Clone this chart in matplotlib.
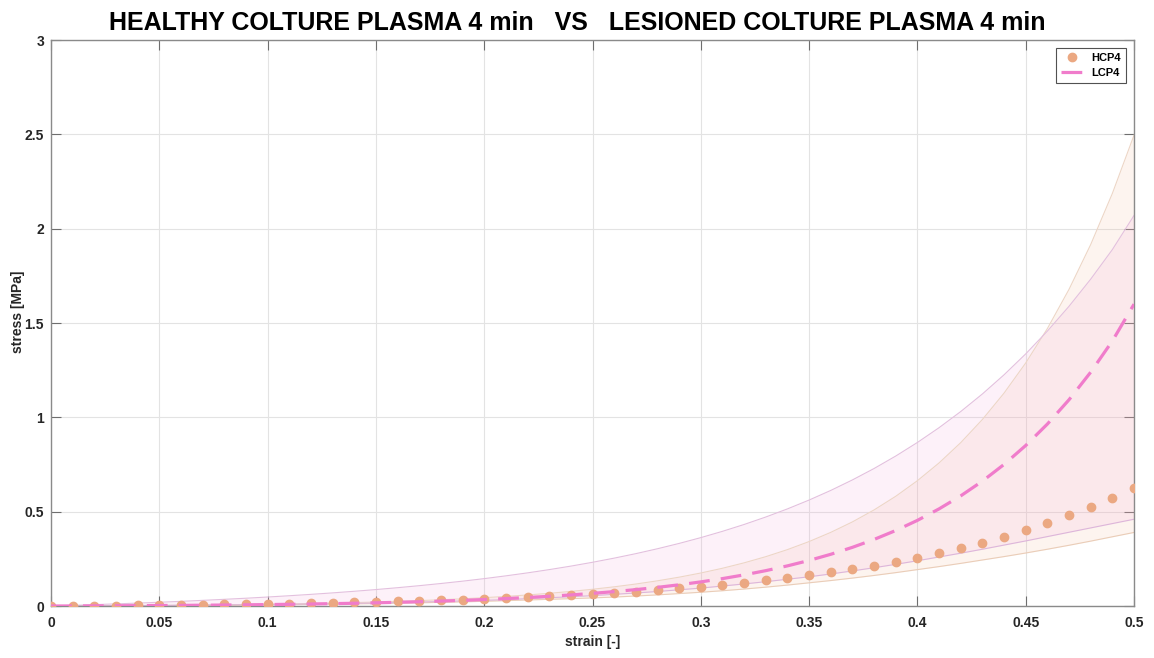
import numpy as np
import matplotlib
matplotlib.use("Agg")
import matplotlib.pyplot as plt

plt.rcParams['font.family'] = ['Liberation Sans', 'DejaVu Sans']

# strain sampled every 0.01
strain = [round(0.01 * i, 2) for i in range(51)]

# healthy culture, plasma 4 min: mean stress [MPa]
hcp4_mean = [0.000, 0.0007, 0.0015, 0.0024, 0.0034, 0.0044, 0.0055, 0.0068, 0.0081, 0.0096,
             0.0112, 0.0129, 0.0149, 0.0170, 0.0192, 0.0217, 0.0244, 0.0274, 0.0306, 0.0342,
             0.0380, 0.0422, 0.0468, 0.0519, 0.0573, 0.0633, 0.0698, 0.0769, 0.0847, 0.0932,
             0.1024, 0.1125, 0.1236, 0.1356, 0.1487, 0.1630, 0.1787, 0.1958, 0.2144, 0.2347,
             0.2569, 0.2811, 0.3076, 0.3364, 0.3679, 0.4023, 0.4398, 0.4808, 0.5255, 0.5743,
             0.6275]
hcp4_upper = [0.0000, 0.0005, 0.0010, 0.0017, 0.0024, 0.0032, 0.0041, 0.0052, 0.0064, 0.0078,
              0.0093, 0.0111, 0.0132, 0.0155, 0.0182, 0.0212, 0.0247, 0.0287, 0.0332, 0.0384,
              0.0442, 0.0510, 0.0586, 0.0674, 0.0774, 0.0888, 0.1018, 0.1166, 0.1336, 0.1529,
              0.1750, 0.2001, 0.2289, 0.2616, 0.2990, 0.3417, 0.3904, 0.4459, 0.5094, 0.5817,
              0.6643, 0.7585, 0.8660, 0.9887, 1.1287, 1.2884, 1.4707, 1.6788, 1.9161, 2.1870,
              2.4961]
hcp4_lower = [0.0000, 0.0003, 0.0007, 0.0011, 0.0016, 0.0020, 0.0027, 0.0034, 0.0042, 0.0051,
              0.0060, 0.0072, 0.0085, 0.0099, 0.0114, 0.0130, 0.0150, 0.0170, 0.0195, 0.0220,
              0.0250, 0.0285, 0.0320, 0.0355, 0.0390, 0.0430, 0.0475, 0.0530, 0.0590, 0.0660,
              0.0730, 0.0810, 0.0900, 0.1000, 0.1110, 0.1230, 0.1350, 0.1480, 0.1620, 0.1770,
              0.1930, 0.2090, 0.2260, 0.2440, 0.2620, 0.2810, 0.3010, 0.3220, 0.3440, 0.3670,
              0.3900]

# lesioned culture, plasma 4 min: mean stress [MPa]
lcp4_mean = [0.0000, 0.0004, 0.0009, 0.0014, 0.0020, 0.0027, 0.0034, 0.0043, 0.0053, 0.0064,
             0.0077, 0.0091, 0.0107, 0.0126, 0.0146, 0.0170, 0.0197, 0.0227, 0.0261, 0.0300,
             0.0344, 0.0394, 0.0451, 0.0515, 0.0588, 0.0670, 0.0764, 0.0869, 0.0989, 0.1125,
             0.1279, 0.1453, 0.1651, 0.1875, 0.2128, 0.2416, 0.2742, 0.3111, 0.3529, 0.4003,
             0.4540, 0.5149, 0.5839, 0.6620, 0.7506, 0.8509, 0.9646, 1.0935, 1.2395, 1.4049,
             1.6000]
lcp4_upper = [0.0000, 0.0035, 0.0073, 0.0113, 0.0155, 0.0200, 0.0248, 0.0300, 0.0355, 0.0413,
              0.0477, 0.0545, 0.0618, 0.0696, 0.0781, 0.0872, 0.0971, 0.1078, 0.1193, 0.1317,
              0.1452, 0.1599, 0.1757, 0.1929, 0.2115, 0.2318, 0.2538, 0.2776, 0.3036, 0.3318,
              0.3625, 0.3959, 0.4322, 0.4718, 0.5148, 0.5617, 0.6127, 0.6684, 0.7289, 0.7950,
              0.8669, 0.9453, 1.0308, 1.1240, 1.2256, 1.3364, 1.4572, 1.5889, 1.7326, 1.8893,
              2.0702]
lcp4_lower = [0.0000, 0.0005, 0.0010, 0.0017, 0.0024, 0.0030, 0.0040, 0.0050, 0.0060, 0.0070,
              0.0080, 0.0094, 0.0110, 0.0126, 0.0143, 0.0160, 0.0185, 0.0210, 0.0240, 0.0270,
              0.0300, 0.0340, 0.0390, 0.0440, 0.0490, 0.0550, 0.0620, 0.0690, 0.0770, 0.0860,
              0.0950, 0.1060, 0.1170, 0.1290, 0.1420, 0.1550, 0.1700, 0.1860, 0.2030, 0.2210,
              0.2400, 0.2600, 0.2800, 0.3010, 0.3230, 0.3450, 0.3680, 0.3910, 0.4140, 0.4370,
              0.4600]

x_ticks = [0, 0.05, 0.1, 0.15, 0.2, 0.25, 0.3, 0.35, 0.4, 0.45, 0.5]
x_tick_labels = ['0', '0.05', '0.1', '0.15', '0.2', '0.25', '0.3', '0.35', '0.4', '0.45', '0.5']
y_ticks = [0, 0.5, 1, 1.5, 2, 2.5, 3]
y_tick_labels = ['0', '0.5', '1', '1.5', '2', '2.5', '3']

peach = '#EBA882'
pink = '#F07CCB'

fig = plt.figure(figsize=(11.54, 6.58), dpi=100)
ax = fig.add_axes([0.0442, 0.079, 0.9385, 0.8602])

# shaded bands with their thin outlines
ax.fill_between(strain, hcp4_lower, hcp4_upper, color='#F2B894', alpha=0.14, lw=0, zorder=1)
ax.fill_between(strain, lcp4_lower, lcp4_upper, color='#F5A0D8', alpha=0.14, lw=0, zorder=1)
ax.plot(strain, hcp4_upper, color='#EDD6C6', lw=0.8, zorder=2)
ax.plot(strain, hcp4_lower, color='#EACDB8', lw=0.8, zorder=2)
ax.plot(strain, lcp4_upper, color='#E3C0DE', lw=0.8, zorder=2)
ax.plot(strain, lcp4_lower, color='#DDB6DA', lw=0.8, zorder=2)

# mean curves
ax.plot(strain, hcp4_mean, linestyle='none', marker='o', ms=6.0,
        mfc=peach, mec=peach, label='HCP4', zorder=3)
ax.plot(strain, lcp4_mean, linestyle=(0, (6.5, 3.5)), color=pink, lw=2.3,
        label='LCP4', zorder=4)

ax.set_xlim(0, 0.5)
ax.set_ylim(0, 3)
ax.set_xticks(x_ticks)
ax.set_xticklabels(x_tick_labels)
ax.set_yticks(y_ticks)
ax.set_yticklabels(y_tick_labels)
ax.grid(True, color='#E3E3E3', lw=0.8)
ax.set_axisbelow(True)
ax.tick_params(direction='in', length=7, width=0.8, color='#6E6E6E',
               top=True, right=True, labelsize=10, labelcolor='#262626')
ax.tick_params(axis='x', pad=7)
ax.tick_params(axis='y', pad=5)
for lbl in ax.get_xticklabels() + ax.get_yticklabels():
    lbl.set_fontweight('bold')
for sp in ax.spines.values():
    sp.set_color('#8A8A8A')
    sp.set_linewidth(1.0)

ax.set_xlabel('strain [-]', fontsize=10, fontweight='bold', color='#262626', labelpad=4)
ax.set_ylabel('stress [MPa]', fontsize=10, fontweight='bold', color='#262626')
ax.yaxis.set_label_coords(-0.0236, 0.52)
ax.set_title('HEALTHY COLTURE PLASMA 4 min   VS   LESIONED COLTURE PLASMA 4 min',
             fontsize=18, fontweight='bold', color='black', pad=7, x=0.4857)

leg = ax.legend(loc='upper right', frameon=True, fancybox=False,
                edgecolor='#262626', borderpad=0.45, handlelength=2.0,
                prop={'weight': 'bold', 'size': 8}, borderaxespad=0.7)
leg.get_frame().set_linewidth(0.8)

fig.savefig('out.png', dpi=100)
